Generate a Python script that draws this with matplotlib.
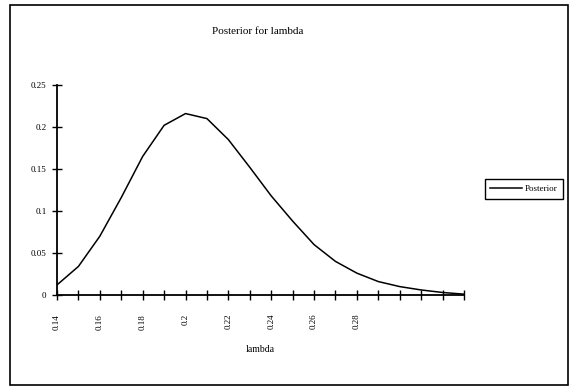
import matplotlib
matplotlib.use("Agg")
import matplotlib.pyplot as plt
from matplotlib.patches import Rectangle

# lambda categories and posterior values
lam = ['0.14', '0.15', '0.16', '0.17', '0.18', '0.19', '0.2', '0.21', '0.22', '0.23',
       '0.24', '0.25', '0.26', '0.27', '0.28', '0.29', '0.3', '0.31', '0.32', '0.33']
posterior = [0.012, 0.034, 0.070, 0.116, 0.165, 0.202, 0.216, 0.210, 0.185, 0.152,
             0.118, 0.088, 0.060, 0.040, 0.026, 0.016, 0.010, 0.006, 0.003, 0.001]
shown_labels = ['0.14', '0.16', '0.18', '0.2', '0.22', '0.24', '0.26', '0.28']
y_ticks = [0, 0.05, 0.1, 0.15, 0.2, 0.25]
y_labels = ['0', '0.05', '0.1', '0.15', '0.2', '0.25']

plt.rcParams['font.family'] = ['Liberation Serif', 'DejaVu Serif']

W, H = 571, 388


def main():
    fig = plt.figure(figsize=(W / 100, H / 100), dpi=100)
    fig.patch.set_facecolor('white')

    # outer chart border
    fig.patches.append(Rectangle((10 / W, 1 - 385 / H), 558 / W, 380 / H,
                                 transform=fig.transFigure, fill=False,
                                 edgecolor='black', linewidth=1.2))

    ax = fig.add_axes([57 / W, 1 - 295 / H, (464 - 57) / W, (295 - 85) / H])
    x = list(range(len(lam)))
    ax.plot(x, posterior, color='black', linewidth=1.1, label='Posterior')

    ax.set_xlim(0, len(lam) - 1)
    ax.set_ylim(0, 0.25)
    ax.set_xticks(x)
    ax.set_xticklabels([l if l in shown_labels and i % 2 == 0 else '' for i, l in enumerate(lam)],
                       rotation=90, fontsize=6.5)
    ax.set_yticks(y_ticks)
    ax.set_yticklabels(y_labels, fontsize=6.5)
    ax.tick_params(axis='x', direction='inout', length=7, width=1, pad=10)
    ax.tick_params(axis='y', direction='inout', length=7, width=1, pad=4)

    for s in ['top', 'right']:
        ax.spines[s].set_visible(False)
    for s in ['left', 'bottom']:
        ax.spines[s].set_linewidth(1.3)

    ax.set_xlabel('lambda', fontsize=7, labelpad=11)
    fig.text(258 / W, 1 - 32 / H, 'Posterior for lambda', ha='center', va='center', fontsize=8)

    leg = fig.legend(loc='center left', bbox_to_anchor=(485 / W, 1 - 189 / H),
                     fontsize=6.5, frameon=True, fancybox=False, framealpha=1,
                     edgecolor='black', handlelength=3.5, borderpad=0.6,
                     borderaxespad=0, handletextpad=0.3)
    leg.get_frame().set_linewidth(1.0)

    fig.savefig('out.png', dpi=100)


if __name__ == "__main__":
    main()
